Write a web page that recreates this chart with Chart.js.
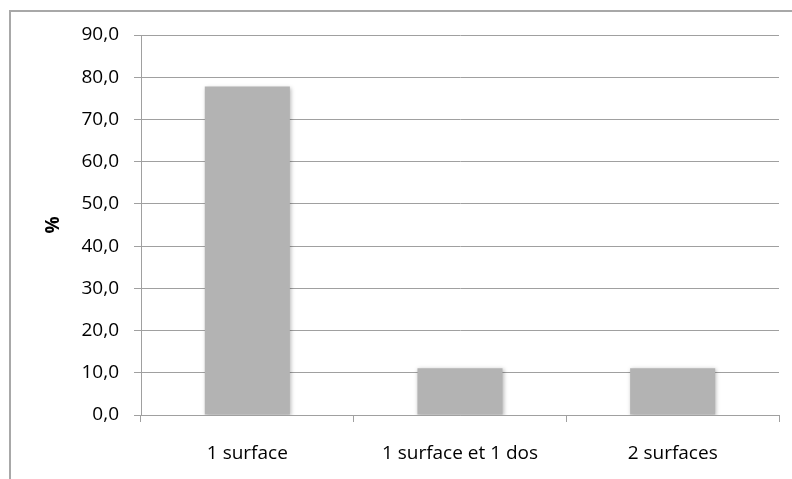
<!DOCTYPE html>
<html>
<head>
<meta charset="utf-8">
<script src="https://cdn.jsdelivr.net/npm/chart.js@4/dist/chart.umd.min.js"></script>
<style>
html,body{margin:0;padding:0;background:#fff;}
#wrap{width:792px;height:479px;position:relative;}
</style>
</head>
<body>
<div id="wrap"><canvas id="c" width="792" height="479"></canvas></div>
<script>
const categories = ["1 surface", "1 surface et 1 dos", "2 surfaces"];
const values = [77.8, 11.1, 11.1];
const yTicks = [0, 10, 20, 30, 40, 50, 60, 70, 80, 90];
const yTitle = "%";

const frame = {
  id: 'frame',
  beforeDraw(chart) {
    const ctx = chart.ctx;
    ctx.save();
    ctx.fillStyle = '#fff';
    ctx.fillRect(0, 0, chart.width, chart.height);
    ctx.strokeStyle = '#a8a8a8';
    ctx.lineWidth = 2;
    ctx.beginPath();
    ctx.moveTo(10, chart.height + 2);
    ctx.lineTo(10, 11);
    ctx.lineTo(chart.width + 2, 11);
    ctx.stroke();
    ctx.restore();
  },
  beforeDatasetsDraw(chart) {
    const ctx = chart.ctx;
    ctx.save();
    ctx.shadowColor = 'rgba(0,0,0,0.28)';
    ctx.shadowBlur = 4;
    ctx.shadowOffsetX = 1;
    ctx.shadowOffsetY = 1;
  },
  afterDatasetsDraw(chart) {
    chart.ctx.restore();
  }
};

new Chart(document.getElementById('c'), {
  type: 'bar',
  data: {
    labels: categories,
    datasets: [{
      data: values,
      backgroundColor: '#b3b3b3',
      borderWidth: 0,
      barPercentage: 0.4,
      categoryPercentage: 1.0
    }]
  },
  options: {
    responsive: false,
    animation: false,
    devicePixelRatio: 1,
    layout: { padding: { left: 0, top: 35, right: 13, bottom: 0 } },
    plugins: { legend: { display: false }, tooltip: { enabled: false } },
    scales: {
      x: {
        offset: true,
        grid: { display: true, drawOnChartArea: false, drawTicks: true, tickLength: 7, color: '#a0a0a0', offset: true },
        border: { display: true, color: '#a0a0a0', width: 1 },
        ticks: { color: '#000', font: { family: 'Open Sans', size: 19 }, padding: 20, maxRotation: 0 },
        afterFit(s) { s.height = 64; }
      },
      y: {
        min: 0, max: 90,
        afterBuildTicks(s) { s.ticks = yTicks.map(v => ({ value: v })); },
        grid: { color: '#a0a0a0', lineWidth: 1, tickLength: 7, drawTicks: true },
        border: { display: true, color: '#a0a0a0', width: 1 },
        ticks: {
          color: '#000', font: { family: 'Open Sans', size: 19 }, padding: 15,
          callback: v => v.toFixed(1).replace('.', ',')
        },
        title: { display: true, text: yTitle, color: '#000', font: { family: 'Open Sans', size: 19, weight: 'bold' }, padding: { top: 42, bottom: 0 } },
        afterFit(s) { s.width = 141; }
      }
    }
  },
  plugins: [frame]
});
</script>
</body>
</html>
